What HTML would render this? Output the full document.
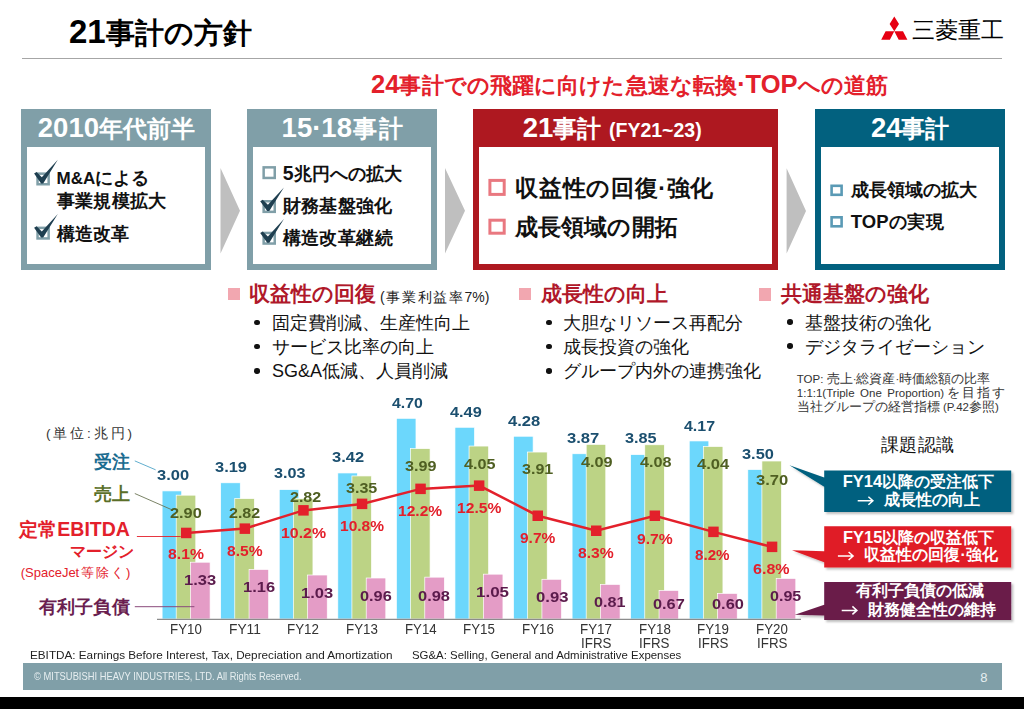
<!DOCTYPE html>
<html lang="ja"><head><meta charset="utf-8"><title>21事計の方針</title>
<style>
html,body{margin:0;padding:0;background:#fff;}
body{width:1024px;height:709px;overflow:hidden;position:relative;font-family:"Liberation Sans",sans-serif;}
.t{position:absolute;white-space:nowrap;}
.r{position:absolute;}
.j{line-height:0;font-size:var(--jn);font-feature-settings:"palt";}
.tofu .k .j{font-size:calc(var(--jn) * 0.95);}
.tofu .j{font-size:calc(var(--jn) * 1.15);}
.tofu .b .j{-webkit-text-stroke:0.1em currentColor;}
.tofu .n .j{-webkit-text-stroke:0.038em currentColor;}
.tofu .s .j{-webkit-text-stroke:0.04em currentColor;}
.tofu .lg .j{-webkit-text-stroke:0.06em currentColor;}
</style>
<script>
(function(){try{var s=document.createElement('span');s.style.cssText='position:absolute;font:100px "Liberation Sans";white-space:nowrap;visibility:hidden';s.textContent='\u4e8b\u8a08\u65b9\u91dd';document.documentElement.appendChild(s);var w=s.getBoundingClientRect().width;s.parentNode.removeChild(s);if(w>200&&w<380)document.documentElement.className+=' tofu';}catch(e){}})();
</script>
</head><body>
<div class="t b" style="left:69.0px;top:14.6px;font-size:33.0px;line-height:33.0px;color:#000;--jn:28.5px;font-weight:bold;width:180.0px;text-align:justify;text-align-last:justify;">21<span class="j">事計の方針</span></div>
<div class="r" style="left:22.0px;top:58.0px;width:980.0px;height:1.3px;background:#a6a6a6;"></div>
<svg class="r" style="left:0;top:0" width="1024" height="60" viewBox="0 0 1024 60"><path fill="#e60012" d="M894.3 16.6L899 23.9L894.3 31.2L889.6 23.9Z M894.3 31.2L885.6 31.2L881.2 39.8L889.9 39.8Z M894.3 31.2L903 31.2L907.4 39.8L898.7 39.8Z"/></svg>
<div class="t lg" style="left:911.5px;top:20.0px;font-size:22.5px;line-height:22.5px;color:#000;--jn:22.7px;width:91.5px;text-align:justify;text-align-last:justify;"><span class="j">三菱重工</span></div>
<div class="t b" style="left:371.0px;top:72.3px;font-size:25.5px;line-height:25.5px;color:#e3202b;--jn:22.3px;font-weight:bold;width:517.0px;text-align:justify;text-align-last:justify;">24<span class="j">事計での飛躍に向けた急速な転換</span>·TOP<span class="j">への道筋</span></div>
<div class="r" style="left:21.0px;top:109.0px;width:190.0px;height:161.0px;background:#809fa8;"></div>
<div class="r" style="left:27.0px;top:147.0px;width:178.0px;height:117.0px;background:#fff;"></div>
<div class="r" style="left:247.0px;top:109.0px;width:190.0px;height:161.0px;background:#809fa8;"></div>
<div class="r" style="left:253.0px;top:147.0px;width:178.0px;height:117.0px;background:#fff;"></div>
<div class="r" style="left:473.0px;top:109.0px;width:305.0px;height:161.0px;background:#ae1820;"></div>
<div class="r" style="left:479.0px;top:147.0px;width:293.0px;height:117.0px;background:#fff;"></div>
<div class="r" style="left:815.0px;top:109.0px;width:190.0px;height:161.0px;background:#02617f;"></div>
<div class="r" style="left:821.0px;top:147.0px;width:178.0px;height:117.0px;background:#fff;"></div>
<svg class="r" style="left:0;top:0" width="1024" height="300" viewBox="0 0 1024 300"><path fill="#bfbfbf" d="M220.5 168L240 210.7L220.5 253.5Z M445 168L465 210.7L445 253.5Z M786.6 168.3L806 211L786.6 253.4Z"/></svg>
<div class="t b" style="left:37.8px;top:114.4px;font-size:27.5px;line-height:27.5px;color:#fff;--jn:23.5px;font-weight:bold;width:156.0px;text-align:justify;text-align-last:justify;">2010<span class="j">年代前半</span></div>
<div class="t b" style="left:281.6px;top:114.4px;font-size:27.5px;line-height:27.5px;color:#fff;--jn:23.5px;font-weight:bold;width:121.0px;text-align:justify;text-align-last:justify;">15·18<span class="j">事計</span></div>
<div class="t b" style="left:522.7px;top:114.4px;font-size:27.5px;line-height:27.5px;color:#fff;--jn:23.5px;font-weight:bold;width:76.0px;text-align:justify;text-align-last:justify;">21<span class="j">事計</span></div>
<div class="t b" style="left:609.0px;top:121.3px;font-size:19.5px;line-height:19.5px;color:#fff;--jn:17.0px;font-weight:bold;width:112.0px;text-align:justify;text-align-last:justify;">(FY21~23)</div>
<div class="t b" style="left:870.9px;top:114.4px;font-size:27.5px;line-height:27.5px;color:#fff;--jn:23.5px;font-weight:bold;width:77.7px;text-align:justify;text-align-last:justify;">24<span class="j">事計</span></div>
<svg class="r" style="left:0;top:0" width="1024" height="300" viewBox="0 0 1024 300"><rect x="37.55" y="173.65" width="11.1" height="10.6" fill="none" stroke="#809fa8" stroke-width="2.5"/><path d="M34.10 173.60 L36.60 172.10 L41.80 177.20 L57.80 159.80 L43.20 183.40 L41.10 183.40 Z" fill="#1f3f50"/><rect x="37.55" y="227.85" width="11.1" height="10.6" fill="none" stroke="#809fa8" stroke-width="2.5"/><path d="M34.10 227.80 L36.60 226.30 L41.80 231.40 L57.80 214.00 L43.20 237.60 L41.10 237.60 Z" fill="#1f3f50"/><rect x="263.65" y="167.35" width="11.1" height="10.6" fill="none" stroke="#809fa8" stroke-width="2.5"/><rect x="263.65" y="201.25" width="11.1" height="10.6" fill="none" stroke="#809fa8" stroke-width="2.5"/><path d="M260.20 201.20 L262.70 199.70 L267.90 204.80 L283.90 187.40 L269.30 211.00 L267.20 211.00 Z" fill="#1f3f50"/><rect x="263.65" y="232.95" width="11.1" height="10.6" fill="none" stroke="#809fa8" stroke-width="2.5"/><path d="M260.20 232.90 L262.70 231.40 L267.90 236.50 L283.90 219.10 L269.30 242.70 L267.20 242.70 Z" fill="#1f3f50"/><rect x="489.9" y="180.4" width="14.3" height="14" fill="none" stroke="#e97880" stroke-width="3"/><rect x="489.9" y="220.2" width="14.3" height="13" fill="none" stroke="#e97880" stroke-width="3"/><rect x="831.6" y="185.8" width="10" height="9" fill="none" stroke="#5a9ab5" stroke-width="2.6"/><rect x="831.6" y="217.3" width="10" height="9" fill="none" stroke="#5a9ab5" stroke-width="2.6"/></svg>
<div class="t b" style="left:56.6px;top:170.2px;font-size:17.0px;line-height:17.0px;color:#111;--jn:18.0px;font-weight:bold;width:91.4px;text-align:justify;text-align-last:justify;">M&amp;A<span class="j">による</span></div>
<div class="t b" style="left:56.6px;top:192.4px;font-size:18.0px;line-height:18.0px;color:#111;--jn:18.3px;font-weight:bold;width:109.7px;text-align:justify;text-align-last:justify;"><span class="j">事業規模拡大</span></div>
<div class="t b" style="left:56.6px;top:224.6px;font-size:18.0px;line-height:18.0px;color:#111;--jn:18.0px;font-weight:bold;width:72.0px;text-align:justify;text-align-last:justify;"><span class="j">構造改革</span></div>
<div class="t b" style="left:282.7px;top:163.7px;font-size:19.5px;line-height:19.5px;color:#111;--jn:18.0px;font-weight:bold;width:117.8px;text-align:justify;text-align-last:justify;">5<span class="j">兆円への拡大</span></div>
<div class="t b" style="left:282.7px;top:197.2px;font-size:18.0px;line-height:18.0px;color:#111;--jn:18.3px;font-weight:bold;width:109.8px;text-align:justify;text-align-last:justify;"><span class="j">財務基盤強化</span></div>
<div class="t b" style="left:282.7px;top:229.2px;font-size:18.0px;line-height:18.0px;color:#111;--jn:18.3px;font-weight:bold;width:110.0px;text-align:justify;text-align-last:justify;"><span class="j">構造改革継続</span></div>
<div class="t b" style="left:515.2px;top:176.7px;font-size:23.0px;line-height:23.0px;color:#111;--jn:23.0px;font-weight:bold;width:198.0px;text-align:justify;text-align-last:justify;"><span class="j">収益性の回復</span>·<span class="j">強化</span></div>
<div class="t b" style="left:515.2px;top:215.5px;font-size:23.0px;line-height:23.0px;color:#111;--jn:23.0px;font-weight:bold;width:162.4px;text-align:justify;text-align-last:justify;"><span class="j">成長領域の開拓</span></div>
<div class="t b" style="left:850.8px;top:181.2px;font-size:18.0px;line-height:18.0px;color:#111;--jn:18.0px;font-weight:bold;width:126.0px;text-align:justify;text-align-last:justify;"><span class="j">成長領域の拡大</span></div>
<div class="t b" style="left:850.8px;top:213.3px;font-size:18.5px;line-height:18.5px;color:#111;--jn:18.0px;font-weight:bold;width:93.2px;text-align:justify;text-align-last:justify;">TOP<span class="j">の実現</span></div>
<div class="r" style="left:227.9px;top:287.9px;width:12.5px;height:12.4px;background:#f2a7b0;"></div>
<div class="r" style="left:519.1px;top:288.1px;width:11.8px;height:12.4px;background:#f2a7b0;"></div>
<div class="r" style="left:759.4px;top:288.4px;width:12.0px;height:12.4px;background:#f2a7b0;"></div>
<div class="t b" style="left:248.7px;top:284.1px;font-size:20.5px;line-height:20.5px;color:#b0182a;--jn:20.5px;font-weight:bold;width:123.0px;text-align:justify;text-align-last:justify;"><span class="j">収益性の回復</span></div>
<div class="t n" style="left:380.0px;top:290.1px;font-size:14.0px;line-height:14.0px;color:#222;--jn:14.0px;width:109.3px;text-align:justify;text-align-last:justify;">(<span class="j">事業利益率</span>7%)</div>
<div class="t b" style="left:540.5px;top:284.1px;font-size:20.5px;line-height:20.5px;color:#b0182a;--jn:20.5px;font-weight:bold;width:122.2px;text-align:justify;text-align-last:justify;"><span class="j">成長性の向上</span></div>
<div class="t b" style="left:780.8px;top:284.1px;font-size:20.5px;line-height:20.5px;color:#b0182a;--jn:20.5px;font-weight:bold;width:144.5px;text-align:justify;text-align-last:justify;"><span class="j">共通基盤の強化</span></div>
<div class="r" style="left:254.1px;top:319.6px;width:5.5px;height:5.5px;border-radius:50%;background:#111"></div>
<div class="r" style="left:546.4px;top:319.6px;width:5.5px;height:5.5px;border-radius:50%;background:#111"></div>
<div class="r" style="left:254.1px;top:343.8px;width:5.5px;height:5.5px;border-radius:50%;background:#111"></div>
<div class="r" style="left:546.4px;top:343.8px;width:5.5px;height:5.5px;border-radius:50%;background:#111"></div>
<div class="r" style="left:254.1px;top:368.2px;width:5.5px;height:5.5px;border-radius:50%;background:#111"></div>
<div class="r" style="left:546.4px;top:368.2px;width:5.5px;height:5.5px;border-radius:50%;background:#111"></div>
<div class="r" style="left:787.4px;top:319.1px;width:5.5px;height:5.5px;border-radius:50%;background:#111"></div>
<div class="r" style="left:787.4px;top:343.1px;width:5.5px;height:5.5px;border-radius:50%;background:#111"></div>
<div class="t n" style="left:272.0px;top:313.8px;font-size:18.0px;line-height:18.0px;color:#111;--jn:17.5px;width:195.5px;text-align:justify;text-align-last:justify;"><span class="j">固定費削減、生産性向上</span></div>
<div class="t n" style="left:272.0px;top:338.0px;font-size:18.0px;line-height:18.0px;color:#111;--jn:17.5px;width:145.0px;text-align:justify;text-align-last:justify;"><span class="j">サービス比率の向上</span></div>
<div class="t n" style="left:272.0px;top:362.4px;font-size:18.0px;line-height:18.0px;color:#111;--jn:17.5px;width:174.0px;text-align:justify;text-align-last:justify;">SG&amp;A<span class="j">低減、人員削減</span></div>
<div class="t n" style="left:563.4px;top:313.8px;font-size:18.0px;line-height:18.0px;color:#111;--jn:17.5px;width:160.8px;text-align:justify;text-align-last:justify;"><span class="j">大胆なリソース再配分</span></div>
<div class="t n" style="left:563.4px;top:338.0px;font-size:18.0px;line-height:18.0px;color:#111;--jn:17.5px;width:125.3px;text-align:justify;text-align-last:justify;"><span class="j">成長投資の強化</span></div>
<div class="t n" style="left:563.4px;top:362.4px;font-size:18.0px;line-height:18.0px;color:#111;--jn:17.5px;width:182.7px;text-align:justify;text-align-last:justify;"><span class="j">グループ内外の連携強化</span></div>
<div class="t n" style="left:804.9px;top:313.6px;font-size:18.0px;line-height:18.0px;color:#111;--jn:17.5px;width:123.9px;text-align:justify;text-align-last:justify;"><span class="j">基盤技術の強化</span></div>
<div class="t n k" style="left:804.9px;top:337.6px;font-size:18.0px;line-height:18.0px;color:#111;--jn:17.5px;width:134.6px;text-align:justify;text-align-last:justify;"><span class="j">デジタライゼーション</span></div>
<div class="t s" style="left:796.8px;top:374.3px;font-size:11.5px;line-height:11.5px;color:#333;--jn:12.5px;width:183.3px;text-align:justify;text-align-last:justify;">TOP: <span class="j">売上</span>·<span class="j">総資産</span>·<span class="j">時価総額の比率</span></div>
<div class="t s" style="left:796.8px;top:387.9px;font-size:11.5px;line-height:11.5px;color:#333;--jn:12.5px;width:208.7px;text-align:justify;text-align-last:justify;">1:1:1(Triple One Proportion)<span class="j">を目指す</span></div>
<div class="t s" style="left:796.8px;top:401.6px;font-size:11.5px;line-height:11.5px;color:#333;--jn:12.5px;width:183.2px;text-align:justify;text-align-last:justify;"><span class="j">当社グループの経営指標</span> (P.42<span class="j">参照</span>)</div>
<div class="t n" style="left:880.9px;top:435.6px;font-size:18.0px;line-height:18.0px;color:#111;--jn:18.3px;width:73.3px;text-align:justify;text-align-last:justify;"><span class="j">課題認識</span></div>
<svg class="r" style="left:0;top:0" width="1024" height="709" viewBox="0 0 1024 709"><rect x="162.10" y="490.90" width="19.6" height="128.10" fill="#6cd7fc" stroke="#fff" stroke-width="0.7"/><rect x="176.20" y="495.17" width="19.6" height="123.83" fill="#bcd385" stroke="#fff" stroke-width="0.7"/><rect x="190.50" y="562.21" width="19.6" height="56.79" fill="#e49cc6" stroke="#fff" stroke-width="0.7"/><rect x="220.67" y="482.79" width="19.6" height="136.21" fill="#6cd7fc" stroke="#fff" stroke-width="0.7"/><rect x="234.77" y="498.59" width="19.6" height="120.41" fill="#bcd385" stroke="#fff" stroke-width="0.7"/><rect x="249.07" y="569.47" width="19.6" height="49.53" fill="#e49cc6" stroke="#fff" stroke-width="0.7"/><rect x="279.24" y="489.62" width="19.6" height="129.38" fill="#6cd7fc" stroke="#fff" stroke-width="0.7"/><rect x="293.34" y="498.59" width="19.6" height="120.41" fill="#bcd385" stroke="#fff" stroke-width="0.7"/><rect x="307.64" y="575.02" width="19.6" height="43.98" fill="#e49cc6" stroke="#fff" stroke-width="0.7"/><rect x="337.81" y="472.97" width="19.6" height="146.03" fill="#6cd7fc" stroke="#fff" stroke-width="0.7"/><rect x="351.91" y="475.95" width="19.6" height="143.05" fill="#bcd385" stroke="#fff" stroke-width="0.7"/><rect x="366.21" y="578.01" width="19.6" height="40.99" fill="#e49cc6" stroke="#fff" stroke-width="0.7"/><rect x="396.38" y="418.31" width="19.6" height="200.69" fill="#6cd7fc" stroke="#fff" stroke-width="0.7"/><rect x="410.48" y="448.63" width="19.6" height="170.37" fill="#bcd385" stroke="#fff" stroke-width="0.7"/><rect x="424.78" y="577.15" width="19.6" height="41.85" fill="#e49cc6" stroke="#fff" stroke-width="0.7"/><rect x="454.95" y="427.28" width="19.6" height="191.72" fill="#6cd7fc" stroke="#fff" stroke-width="0.7"/><rect x="469.05" y="446.06" width="19.6" height="172.94" fill="#bcd385" stroke="#fff" stroke-width="0.7"/><rect x="483.35" y="574.16" width="19.6" height="44.84" fill="#e49cc6" stroke="#fff" stroke-width="0.7"/><rect x="513.52" y="436.24" width="19.6" height="182.76" fill="#6cd7fc" stroke="#fff" stroke-width="0.7"/><rect x="527.62" y="452.04" width="19.6" height="166.96" fill="#bcd385" stroke="#fff" stroke-width="0.7"/><rect x="541.92" y="579.29" width="19.6" height="39.71" fill="#e49cc6" stroke="#fff" stroke-width="0.7"/><rect x="572.09" y="453.75" width="19.6" height="165.25" fill="#6cd7fc" stroke="#fff" stroke-width="0.7"/><rect x="586.19" y="444.36" width="19.6" height="174.64" fill="#bcd385" stroke="#fff" stroke-width="0.7"/><rect x="600.49" y="584.41" width="19.6" height="34.59" fill="#e49cc6" stroke="#fff" stroke-width="0.7"/><rect x="630.66" y="454.61" width="19.6" height="164.40" fill="#6cd7fc" stroke="#fff" stroke-width="0.7"/><rect x="644.76" y="444.78" width="19.6" height="174.22" fill="#bcd385" stroke="#fff" stroke-width="0.7"/><rect x="659.06" y="590.39" width="19.6" height="28.61" fill="#e49cc6" stroke="#fff" stroke-width="0.7"/><rect x="689.23" y="440.94" width="19.6" height="178.06" fill="#6cd7fc" stroke="#fff" stroke-width="0.7"/><rect x="703.33" y="446.49" width="19.6" height="172.51" fill="#bcd385" stroke="#fff" stroke-width="0.7"/><rect x="717.63" y="593.38" width="19.6" height="25.62" fill="#e49cc6" stroke="#fff" stroke-width="0.7"/><rect x="747.80" y="469.55" width="19.6" height="149.45" fill="#6cd7fc" stroke="#fff" stroke-width="0.7"/><rect x="761.90" y="461.01" width="19.6" height="157.99" fill="#bcd385" stroke="#fff" stroke-width="0.7"/><rect x="776.20" y="578.43" width="19.6" height="40.56" fill="#e49cc6" stroke="#fff" stroke-width="0.7"/><line x1="157" y1="619.3" x2="801" y2="619.3" stroke="#8c8c8c" stroke-width="1.2"/><polyline fill="none" stroke="#e3202b" stroke-width="2.5" points="186.3,532.9 244.9,528.6 303.4,510.4 362.0,503.9 420.6,488.9 479.2,485.6 537.7,515.7 596.3,530.8 654.9,515.7 713.4,531.9 772.0,546.9"/><rect x="181.0" y="527.7" width="10.5" height="10.5" fill="#e3202b"/><rect x="239.6" y="523.4" width="10.5" height="10.5" fill="#e3202b"/><rect x="298.2" y="505.1" width="10.5" height="10.5" fill="#e3202b"/><rect x="356.8" y="498.6" width="10.5" height="10.5" fill="#e3202b"/><rect x="415.3" y="483.6" width="10.5" height="10.5" fill="#e3202b"/><rect x="473.9" y="480.4" width="10.5" height="10.5" fill="#e3202b"/><rect x="532.5" y="510.5" width="10.5" height="10.5" fill="#e3202b"/><rect x="591.0" y="525.5" width="10.5" height="10.5" fill="#e3202b"/><rect x="649.6" y="510.5" width="10.5" height="10.5" fill="#e3202b"/><rect x="708.2" y="526.6" width="10.5" height="10.5" fill="#e3202b"/><rect x="766.8" y="541.6" width="10.5" height="10.5" fill="#e3202b"/><line x1="134.8" y1="460.9" x2="155.6" y2="469.8" stroke="#4fa5c8" stroke-width="0.9"/><line x1="134.8" y1="493.5" x2="171.9" y2="509.8" stroke="#6b7555" stroke-width="0.9"/><line x1="136.9" y1="536.5" x2="180.7" y2="536.5" stroke="#e3202b" stroke-width="0.9"/><line x1="134.8" y1="606.7" x2="194.4" y2="606.7" stroke="#8a4a7c" stroke-width="1"/><defs><filter id="sh" x="-10%" y="-20%" width="130%" height="150%"><feDropShadow dx="2" dy="2" stdDeviation="1.2" flood-color="#000" flood-opacity="0.25"/></filter></defs><g filter="url(#sh)"><path fill="#02617f" d="M824.2 470.6 H1011.2 V511.9 H824.2 V486.7 L789.5 465.2 L824.2 477.5 Z"/></g><g filter="url(#sh)"><path fill="#e01e26" d="M824.2 526.2 H1011.2 V567.5 H824.2 V562.2 L792.0 550.2 L824.2 551.2 Z"/></g><g filter="url(#sh)"><path fill="#6b1d4a" d="M824.2 582.1 H1011.2 V620.0 H824.2 V615.4 L794.8 614.7 L824.2 604.8 Z"/></g></svg>
<div class="t num fit" style="left:156.7px;top:467.5px;font-size:14.0px;line-height:14.0px;color:#1b4f6f;font-weight:bold;transform:scaleX(1.176);transform-origin:0 0;--fw:32.05px;">3.00</div>
<div class="t num fit" style="left:169.7px;top:505.6px;font-size:14.0px;line-height:14.0px;color:#4f5f22;font-weight:bold;transform:scaleX(1.165);transform-origin:0 0;--fw:31.73px;">2.90</div>
<div class="t num fit" style="left:167.8px;top:547.0px;font-size:14.0px;line-height:14.0px;color:#e3202b;font-weight:bold;transform:scaleX(1.126);transform-origin:0 0;--fw:35.92px;">8.1%</div>
<div class="t num fit" style="left:184.0px;top:572.9px;font-size:14.0px;line-height:14.0px;color:#5b1b4c;font-weight:bold;transform:scaleX(1.179);transform-origin:0 0;--fw:32.14px;">1.33</div>
<div class="t num fit" style="left:215.1px;top:459.8px;font-size:14.0px;line-height:14.0px;color:#1b4f6f;font-weight:bold;transform:scaleX(1.174);transform-origin:0 0;--fw:31.99px;">3.19</div>
<div class="t num fit" style="left:229.4px;top:506.3px;font-size:14.0px;line-height:14.0px;color:#4f5f22;font-weight:bold;transform:scaleX(1.145);transform-origin:0 0;--fw:31.20px;">2.82</div>
<div class="t num fit" style="left:226.5px;top:543.7px;font-size:14.0px;line-height:14.0px;color:#e3202b;font-weight:bold;transform:scaleX(1.116);transform-origin:0 0;--fw:35.61px;">8.5%</div>
<div class="t num fit" style="left:243.0px;top:580.0px;font-size:14.0px;line-height:14.0px;color:#5b1b4c;font-weight:bold;transform:scaleX(1.176);transform-origin:0 0;--fw:32.03px;">1.16</div>
<div class="t num fit" style="left:273.5px;top:466.1px;font-size:14.0px;line-height:14.0px;color:#1b4f6f;font-weight:bold;transform:scaleX(1.154);transform-origin:0 0;--fw:31.45px;">3.03</div>
<div class="t num fit" style="left:290.4px;top:490.3px;font-size:14.0px;line-height:14.0px;color:#4f5f22;font-weight:bold;transform:scaleX(1.145);transform-origin:0 0;--fw:31.20px;">2.82</div>
<div class="t num fit" style="left:280.6px;top:525.9px;font-size:14.0px;line-height:14.0px;color:#e3202b;font-weight:bold;transform:scaleX(1.134);transform-origin:0 0;--fw:45.02px;">10.2%</div>
<div class="t num fit" style="left:301.4px;top:585.6px;font-size:14.0px;line-height:14.0px;color:#5b1b4c;font-weight:bold;transform:scaleX(1.179);transform-origin:0 0;--fw:32.14px;">1.03</div>
<div class="t num fit" style="left:331.9px;top:449.7px;font-size:14.0px;line-height:14.0px;color:#1b4f6f;font-weight:bold;transform:scaleX(1.176);transform-origin:0 0;--fw:32.04px;">3.42</div>
<div class="t num fit" style="left:345.9px;top:481.4px;font-size:14.0px;line-height:14.0px;color:#4f5f22;font-weight:bold;transform:scaleX(1.149);transform-origin:0 0;--fw:31.32px;">3.35</div>
<div class="t num fit" style="left:339.5px;top:519.0px;font-size:14.0px;line-height:14.0px;color:#e3202b;font-weight:bold;transform:scaleX(1.108);transform-origin:0 0;--fw:43.99px;">10.8%</div>
<div class="t num fit" style="left:360.2px;top:589.4px;font-size:14.0px;line-height:14.0px;color:#5b1b4c;font-weight:bold;transform:scaleX(1.165);transform-origin:0 0;--fw:31.73px;">0.96</div>
<div class="t num fit" style="left:392.1px;top:395.9px;font-size:14.0px;line-height:14.0px;color:#1b4f6f;font-weight:bold;transform:scaleX(1.130);transform-origin:0 0;--fw:30.79px;">4.70</div>
<div class="t num fit" style="left:404.9px;top:459.2px;font-size:14.0px;line-height:14.0px;color:#4f5f22;font-weight:bold;transform:scaleX(1.155);transform-origin:0 0;--fw:31.47px;">3.99</div>
<div class="t num fit" style="left:397.8px;top:504.4px;font-size:14.0px;line-height:14.0px;color:#e3202b;font-weight:bold;transform:scaleX(1.113);transform-origin:0 0;--fw:44.19px;">12.2%</div>
<div class="t num fit" style="left:418.3px;top:588.9px;font-size:14.0px;line-height:14.0px;color:#5b1b4c;font-weight:bold;transform:scaleX(1.173);transform-origin:0 0;--fw:31.95px;">0.98</div>
<div class="t num fit" style="left:449.5px;top:404.7px;font-size:14.0px;line-height:14.0px;color:#1b4f6f;font-weight:bold;transform:scaleX(1.165);transform-origin:0 0;--fw:31.75px;">4.49</div>
<div class="t num fit" style="left:463.5px;top:456.6px;font-size:14.0px;line-height:14.0px;color:#4f5f22;font-weight:bold;transform:scaleX(1.156);transform-origin:0 0;--fw:31.50px;">4.05</div>
<div class="t num fit" style="left:456.8px;top:501.2px;font-size:14.0px;line-height:14.0px;color:#e3202b;font-weight:bold;transform:scaleX(1.116);transform-origin:0 0;--fw:44.30px;">12.5%</div>
<div class="t num fit" style="left:476.2px;top:585.1px;font-size:14.0px;line-height:14.0px;color:#5b1b4c;font-weight:bold;transform:scaleX(1.213);transform-origin:0 0;--fw:33.04px;">1.05</div>
<div class="t num fit" style="left:507.8px;top:413.8px;font-size:14.0px;line-height:14.0px;color:#1b4f6f;font-weight:bold;transform:scaleX(1.184);transform-origin:0 0;--fw:32.26px;">4.28</div>
<div class="t num fit" style="left:521.7px;top:462.4px;font-size:14.0px;line-height:14.0px;color:#4f5f22;font-weight:bold;transform:scaleX(1.149);transform-origin:0 0;--fw:31.32px;">3.91</div>
<div class="t num fit" style="left:519.6px;top:531.2px;font-size:14.0px;line-height:14.0px;color:#e3202b;font-weight:bold;transform:scaleX(1.108);transform-origin:0 0;--fw:35.35px;">9.7%</div>
<div class="t num fit" style="left:535.6px;top:589.6px;font-size:14.0px;line-height:14.0px;color:#5b1b4c;font-weight:bold;transform:scaleX(1.191);transform-origin:0 0;--fw:32.46px;">0.93</div>
<div class="t num fit" style="left:566.9px;top:431.4px;font-size:14.0px;line-height:14.0px;color:#1b4f6f;font-weight:bold;transform:scaleX(1.186);transform-origin:0 0;--fw:32.31px;">3.87</div>
<div class="t num fit" style="left:581.1px;top:454.9px;font-size:14.0px;line-height:14.0px;color:#4f5f22;font-weight:bold;transform:scaleX(1.162);transform-origin:0 0;--fw:31.65px;">4.09</div>
<div class="t num fit" style="left:577.8px;top:546.4px;font-size:14.0px;line-height:14.0px;color:#e3202b;font-weight:bold;transform:scaleX(1.122);transform-origin:0 0;--fw:35.81px;">8.3%</div>
<div class="t num fit" style="left:594.3px;top:595.4px;font-size:14.0px;line-height:14.0px;color:#5b1b4c;font-weight:bold;transform:scaleX(1.156);transform-origin:0 0;--fw:31.49px;">0.81</div>
<div class="t num fit" style="left:624.9px;top:431.4px;font-size:14.0px;line-height:14.0px;color:#1b4f6f;font-weight:bold;transform:scaleX(1.161);transform-origin:0 0;--fw:31.63px;">3.85</div>
<div class="t num fit" style="left:639.8px;top:454.9px;font-size:14.0px;line-height:14.0px;color:#4f5f22;font-weight:bold;transform:scaleX(1.158);transform-origin:0 0;--fw:31.54px;">4.08</div>
<div class="t num fit" style="left:636.6px;top:532.0px;font-size:14.0px;line-height:14.0px;color:#e3202b;font-weight:bold;transform:scaleX(1.121);transform-origin:0 0;--fw:35.76px;">9.7%</div>
<div class="t num fit" style="left:653.0px;top:596.5px;font-size:14.0px;line-height:14.0px;color:#5b1b4c;font-weight:bold;transform:scaleX(1.166);transform-origin:0 0;--fw:31.76px;">0.67</div>
<div class="t num fit" style="left:683.8px;top:419.3px;font-size:14.0px;line-height:14.0px;color:#1b4f6f;font-weight:bold;transform:scaleX(1.139);transform-origin:0 0;--fw:31.04px;">4.17</div>
<div class="t num fit" style="left:697.3px;top:457.1px;font-size:14.0px;line-height:14.0px;color:#4f5f22;font-weight:bold;transform:scaleX(1.183);transform-origin:0 0;--fw:32.24px;">4.04</div>
<div class="t num fit" style="left:695.3px;top:547.7px;font-size:14.0px;line-height:14.0px;color:#e3202b;font-weight:bold;transform:scaleX(1.084);transform-origin:0 0;--fw:34.58px;">8.2%</div>
<div class="t num fit" style="left:711.7px;top:597.3px;font-size:14.0px;line-height:14.0px;color:#5b1b4c;font-weight:bold;transform:scaleX(1.168);transform-origin:0 0;--fw:31.82px;">0.60</div>
<div class="t num fit" style="left:742.4px;top:446.8px;font-size:14.0px;line-height:14.0px;color:#1b4f6f;font-weight:bold;transform:scaleX(1.169);transform-origin:0 0;--fw:31.85px;">3.50</div>
<div class="t num fit" style="left:755.9px;top:472.5px;font-size:14.0px;line-height:14.0px;color:#4f5f22;font-weight:bold;transform:scaleX(1.184);transform-origin:0 0;--fw:32.26px;">3.70</div>
<div class="t num fit" style="left:753.2px;top:562.4px;font-size:14.0px;line-height:14.0px;color:#e3202b;font-weight:bold;transform:scaleX(1.147);transform-origin:0 0;--fw:36.61px;">6.8%</div>
<div class="t num fit" style="left:770.4px;top:589.2px;font-size:14.0px;line-height:14.0px;color:#5b1b4c;font-weight:bold;transform:scaleX(1.148);transform-origin:0 0;--fw:31.28px;">0.95</div>
<div class="t fit" style="left:170.2px;top:621.9px;font-size:14.3px;line-height:14.3px;color:#333;transform:scaleX(0.931);transform-origin:0 0;--fw:31.81px;">FY10</div>
<div class="t fit" style="left:228.8px;top:621.9px;font-size:14.3px;line-height:14.3px;color:#333;transform:scaleX(0.935);transform-origin:0 0;--fw:31.95px;">FY11</div>
<div class="t fit" style="left:287.3px;top:621.9px;font-size:14.3px;line-height:14.3px;color:#333;transform:scaleX(0.935);transform-origin:0 0;--fw:31.97px;">FY12</div>
<div class="t fit" style="left:345.9px;top:621.9px;font-size:14.3px;line-height:14.3px;color:#333;transform:scaleX(0.933);transform-origin:0 0;--fw:31.88px;">FY13</div>
<div class="t fit" style="left:404.5px;top:621.9px;font-size:14.3px;line-height:14.3px;color:#333;transform:scaleX(0.927);transform-origin:0 0;--fw:31.68px;">FY14</div>
<div class="t fit" style="left:463.1px;top:621.9px;font-size:14.3px;line-height:14.3px;color:#333;transform:scaleX(0.932);transform-origin:0 0;--fw:31.85px;">FY15</div>
<div class="t fit" style="left:521.6px;top:621.9px;font-size:14.3px;line-height:14.3px;color:#333;transform:scaleX(0.933);transform-origin:0 0;--fw:31.88px;">FY16</div>
<div class="t fit" style="left:580.2px;top:621.9px;font-size:14.3px;line-height:14.3px;color:#333;transform:scaleX(0.935);transform-origin:0 0;--fw:31.97px;">FY17</div>
<div class="t fit" style="left:580.9px;top:636.2px;font-size:14.3px;line-height:14.3px;color:#333;transform:scaleX(0.935);transform-origin:0 0;--fw:30.45px;">IFRS</div>
<div class="t fit" style="left:638.8px;top:621.9px;font-size:14.3px;line-height:14.3px;color:#333;transform:scaleX(0.933);transform-origin:0 0;--fw:31.87px;">FY18</div>
<div class="t fit" style="left:639.4px;top:636.2px;font-size:14.3px;line-height:14.3px;color:#333;transform:scaleX(0.935);transform-origin:0 0;--fw:30.45px;">IFRS</div>
<div class="t fit" style="left:697.3px;top:621.9px;font-size:14.3px;line-height:14.3px;color:#333;transform:scaleX(0.934);transform-origin:0 0;--fw:31.93px;">FY19</div>
<div class="t fit" style="left:698.0px;top:636.2px;font-size:14.3px;line-height:14.3px;color:#333;transform:scaleX(0.935);transform-origin:0 0;--fw:30.45px;">IFRS</div>
<div class="t fit" style="left:755.9px;top:621.9px;font-size:14.3px;line-height:14.3px;color:#333;transform:scaleX(0.931);transform-origin:0 0;--fw:31.81px;">FY20</div>
<div class="t fit" style="left:756.6px;top:636.2px;font-size:14.3px;line-height:14.3px;color:#333;transform:scaleX(0.935);transform-origin:0 0;--fw:30.45px;">IFRS</div>
<div class="t n" style="left:45.9px;top:427.1px;font-size:13.5px;line-height:13.5px;color:#333;--jn:14.0px;width:86.0px;text-align:justify;text-align-last:justify;">(<span class="j">単位</span>:<span class="j">兆円</span>)</div>
<div class="t b" style="left:94.2px;top:452.8px;font-size:18.0px;line-height:18.0px;color:#1b6c90;--jn:17.8px;font-weight:bold;width:35.6px;text-align:justify;text-align-last:justify;"><span class="j">受注</span></div>
<div class="t b" style="left:94.2px;top:484.6px;font-size:18.0px;line-height:18.0px;color:#5a6f28;--jn:17.8px;font-weight:bold;width:35.6px;text-align:justify;text-align-last:justify;"><span class="j">売上</span></div>
<div class="t b" style="left:19.3px;top:520.0px;font-size:19.5px;line-height:19.5px;color:#e3202b;--jn:19.0px;font-weight:bold;width:110.5px;text-align:justify;text-align-last:justify;"><span class="j">定常</span>EBITDA</div>
<div class="t b" style="left:69.6px;top:542.3px;font-size:18.0px;line-height:18.0px;color:#e3202b;--jn:16.0px;font-weight:bold;width:60.2px;text-align:justify;text-align-last:justify;"><span class="j">マージン</span></div>
<div class="t n" style="left:20.7px;top:565.8px;font-size:13.0px;line-height:13.0px;color:#e3202b;--jn:13.0px;width:109.7px;text-align:justify;text-align-last:justify;">(SpaceJet<span class="j">等除く</span>)</div>
<div class="t b" style="left:38.5px;top:597.8px;font-size:18.5px;line-height:18.5px;color:#6a1e50;--jn:18.3px;font-weight:bold;width:91.3px;text-align:justify;text-align-last:justify;"><span class="j">有利子負債</span></div>
<div class="t b" style="left:843.0px;top:528.5px;font-size:16.5px;line-height:16.5px;color:#fff;--jn:15.5px;font-weight:bold;width:148.7px;text-align:justify;text-align-last:justify;">FY15<span class="j">以降の収益低下</span></div>
<div class="t b" style="left:842.7px;top:473.4px;font-size:16.5px;line-height:16.5px;color:#fff;--jn:15.5px;font-weight:bold;width:149.8px;text-align:justify;text-align-last:justify;">FY14<span class="j">以降の受注低下</span></div>
<div class="t b" style="left:884.2px;top:492.0px;font-size:16.0px;line-height:16.0px;color:#fff;--jn:15.5px;font-weight:bold;width:91.9px;text-align:justify;text-align-last:justify;"><span class="j">成長性の向上</span></div>
<div class="t b" style="left:864.4px;top:547.3px;font-size:16.0px;line-height:16.0px;color:#fff;--jn:15.5px;font-weight:bold;width:131.9px;text-align:justify;text-align-last:justify;"><span class="j">収益性の回復</span>·<span class="j">強化</span></div>
<div class="t b" style="left:855.9px;top:583.2px;font-size:16.0px;line-height:16.0px;color:#fff;--jn:15.5px;font-weight:bold;width:123.5px;text-align:justify;text-align-last:justify;"><span class="j">有利子負債の低減</span></div>
<div class="t b" style="left:868.1px;top:601.7px;font-size:16.0px;line-height:16.0px;color:#fff;--jn:15.5px;font-weight:bold;width:124.2px;text-align:justify;text-align-last:justify;"><span class="j">財務健全性の維持</span></div>
<svg class="r" style="left:0;top:0" width="1024" height="709" viewBox="0 0 1024 709"><g fill="none" stroke="#fff" stroke-width="1.5"><path d="M857.7 500.7H872.4 M868.4 496.7L872.9 500.7L868.4 504.7"/><path d="M837.9 556.0H852.6 M848.6 552.0L853.1 556.0L848.6 560.0"/><path d="M841.7 610.4H856.4 M852.4 606.4L856.9 610.4L852.4 614.4"/></g></svg>
<div class="t fit" style="left:30.3px;top:650.2px;font-size:11.3px;line-height:11.3px;color:#222;transform:scaleX(1.030);transform-origin:0 0;--fw:362.41px;">EBITDA: Earnings Before Interest, Tax, Depreciation and Amortization</div>
<div class="t fit" style="left:411.6px;top:650.2px;font-size:11.3px;line-height:11.3px;color:#222;transform:scaleX(1.009);transform-origin:0 0;--fw:269.23px;">SG&amp;A: Selling, General and Administrative Expenses</div>
<div class="r" style="left:22.5px;top:663.0px;width:979.8px;height:26.7px;background:#809fa8;"></div>
<div class="t fit" style="left:34.0px;top:671.4px;font-size:11.5px;line-height:11.5px;color:#e6eef0;transform:scaleX(0.808);transform-origin:0 0;--fw:267.59px;">© MITSUBISHI HEAVY INDUSTRIES, LTD. All Rights Reserved.</div>
<div class="t" style="left:980.2px;top:670.8px;font-size:13.0px;line-height:13.0px;color:#e6eef0;">8</div>
<div class="r" style="left:0.0px;top:697.0px;width:1024.0px;height:12.0px;background:#000;"></div>
<script>
(function(){try{var L=document.querySelectorAll('.fit');for(var i=0;i<L.length;i++){var d=L[i];var fw=parseFloat(d.style.getPropertyValue('--fw'));var r=document.createRange();r.selectNodeContents(d);var w=r.getBoundingClientRect().width;var cur=d.style.transform;var m=/scaleX\(([0-9.]+)\)/.exec(cur);var s0=m?parseFloat(m[1]):1;var nat=w/s0;if(nat>0&&fw>0){d.style.transform='scaleX('+(fw/nat).toFixed(4)+')';}}}catch(e){}})();
</script>
</body></html>
